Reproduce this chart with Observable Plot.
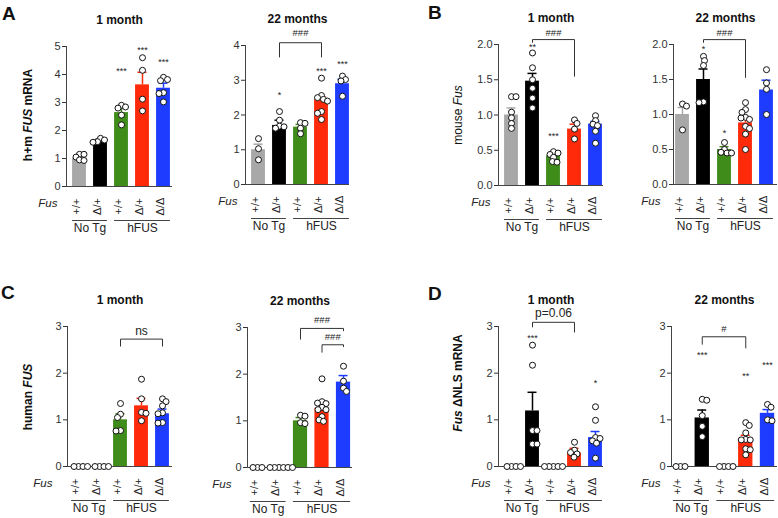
<!DOCTYPE html>
<html><head><meta charset="utf-8">
<script src="https://cdn.jsdelivr.net/npm/d3@7"></script>
<script src="https://cdn.jsdelivr.net/npm/@observablehq/plot@0.6"></script>
<style>
html,body{margin:0;padding:0;background:#fff;overflow:hidden;}
#chart{position:relative;width:778px;height:518px;font-family:"Liberation Sans",Arial,Helvetica,sans-serif;color:#111;}
.letter{position:absolute;font-weight:bold;font-size:19px;line-height:1;}
.ylab{position:absolute;white-space:nowrap;font-size:12px;transform:translate(-50%,-50%) rotate(-90deg);}
</style></head><body><div id="chart"></div>
<script>
// ---- categories / tick labels ----
const genotypes = ["+/+", "Δ/+", "+/+", "Δ/+", "Δ/Δ"];
const groupNames = ["No Tg", "hFUS"];
const groupFrom = [0, 2];
const groupTo = [1, 4];
const colors = ["#a8a8a8", "#000000", "#3f8c1b", "#ff2a0a", "#1d3cff"];

// ---- A: h+m FUS mRNA ----
const A1_mean = [1.0, 1.63, 2.64, 3.63, 3.51];
const A1_sem = [0.1, 0.06, 0.17, 0.45, 0.18];
const A1_pts = [[1.15, 1.15, 1.05, 0.95, 0.93], [1.72, 1.66, 1.6, 1.58], [2.9, 2.84, 2.8, 2.55, 2.2], [4.6, 4.15, 3.12, 2.7], [3.9, 3.82, 3.78, 3.35, 3.32, 3.02]];
const A1_stars = ["", "", "***", "***", "***"];
const A1_starY = [0, 0, 4.2, 4.95, 4.52];
const A1_brackets = [];

const A2_mean = [1.0, 1.7, 1.65, 2.44, 2.9];
const A2_sem = [0.16, 0.15, 0.08, 0.08, 0.13];
const A2_pts = [[1.32, 1.03, 0.71], [2.1, 1.85, 1.68, 1.66, 1.62], [1.78, 1.76, 1.62, 1.46], [3.06, 2.56, 2.5, 2.45, 2.4, 2.1, 2.05, 1.87], [3.12, 3.02, 2.98, 2.54]];
const A2_stars = ["", "*", "", "***", "***"];
const A2_starY = [0, 2.63, 0, 3.32, 3.51];
const A2_brackets = [{from: 1, to: 3, y: 4.08, yl: 3.67, yr: 3.67, label: "###", ly: 4.35}];

// ---- B: mouse Fus ----
const B1_mean = [1.0, 1.48, 0.42, 0.8, 0.87];
const B1_sem = [0.1, 0.11, 0.03, 0.07, 0.04];
const B1_pts = [[1.26, 1.26, 1.04, 0.96, 0.88, 0.81], [1.88, 1.67, 1.5, 1.38, 1.24, 1.1], [0.48, 0.46, 0.44, 0.4, 0.34, 0.33], [0.93, 0.88, 0.8, 0.66], [0.99, 0.92, 0.87, 0.85, 0.77, 0.6]];
const B1_stars = ["", "**", "***", "", ""];
const B1_starY = [0, 1.99, 0.73, 0, 0];
const B1_brackets = [{from: 1, to: 3, y: 2.07, yl: 2.03, yr: 1.55, label: "###", ly: 2.17}];

const B2_mean = [1.0, 1.5, 0.5, 0.88, 1.35];
const B2_sem = [0.1, 0.15, 0.04, 0.06, 0.14];
const B2_pts = [[1.15, 1.12, 0.78], [1.83, 1.77, 1.7, 1.18, 1.17], [0.6, 0.5, 0.46, 0.45, 0.45], [1.17, 1.07, 1.03, 0.96, 0.95, 0.93, 0.83, 0.8, 0.72, 0.5], [1.64, 1.45, 1.36, 1.0]];
const B2_stars = ["", "*", "*", "", ""];
const B2_starY = [0, 1.96, 0.76, 0, 0];
const B2_brackets = [{from: 1, to: 3, y: 2.07, yl: 2.03, yr: 1.53, label: "###", ly: 2.17}];

// ---- C: human FUS ----
const C1_mean = [0, 0, 1.0, 1.3, 1.13];
const C1_sem = [0, 0, 0.13, 0.16, 0.1];
const C1_pts = [[0, 0, 0, 0], [0, 0, 0, 0], [1.35, 1.12, 1.05, 0.77, 0.76], [1.87, 1.45, 1.16, 1.14, 0.98], [1.45, 1.39, 1.3, 1.15, 1.13, 0.94, 0.93]];
const C1_stars = ["", "", "", "", ""];
const C1_starY = [0, 0, 0, 0, 0];
const C1_brackets = [{from: 2, to: 4, y: 2.73, yl: 2.58, yr: 2.58, label: "ns", ly: 2.9}];

const C2_mean = [0, 0, 1.0, 1.27, 1.83];
const C2_sem = [0, 0, 0.07, 0.11, 0.14];
const C2_pts = [[0, 0, 0], [0, 0, 0, 0, 0, 0], [1.12, 1.1, 0.96, 0.94], [1.9, 1.41, 1.38, 1.37, 1.29, 1.24, 1.24, 1.09, 1.02, 0.99], [2.17, 1.85, 1.7, 1.63]];
const C2_stars = ["", "", "", "", ""];
const C2_starY = [0, 0, 0, 0, 0];
const C2_brackets = [
  {from: 2, to: 4, y: 2.98, yl: 2.75, yr: 2.93, label: "###", ly: 3.16},
  {from: 3, to: 4, y: 2.63, yl: 2.47, yr: 2.59, label: "###", ly: 2.79}
];

// ---- D: Fus ΔNLS mRNA ----
const D1_mean = [0, 1.19, 0, 0.29, 0.62];
const D1_sem = [0, 0.4, 0, 0.1, 0.13];
const D1_pts = [[0, 0, 0, 0], [2.6, 2.17, 0.77, 0.77, 0.48, 0.48], [0, 0, 0, 0, 0], [0.52, 0.35, 0.3, 0.27, 0.2], [1.28, 0.99, 0.62, 0.6, 0.55, 0.5, 0.18]];
const D1_stars = ["", "***", "", "", "*"];
const D1_starY = [0, 2.8, 0, 0, 1.84];
const D1_brackets = [{from: 1, to: 3, y: 3.09, yl: 2.99, yr: 2.88, label: "p=0.06", ly: 3.28}];

const D2_mean = [0, 1.04, 0, 0.6, 1.14];
const D2_sem = [0, 0.17, 0, 0.07, 0.08];
const D2_pts = [[0, 0, 0], [1.44, 1.42, 1.09, 0.86, 0.64], [0, 0, 0, 0], [0.94, 0.88, 0.72, 0.58, 0.57, 0.57, 0.38, 0.36, 0.25], [1.33, 1.27, 1.0, 0.98]];
const D2_stars = ["", "***", "", "**", "***"];
const D2_starY = [0, 2.44, 0, 1.99, 2.21];
const D2_brackets = [{from: 1, to: 3, y: 2.78, yl: 2.62, yr: 2.54, label: "#", ly: 2.94}];

const ticks5 = [0, 1, 2, 3, 4, 5];
const ticks4 = [0, 1, 2, 3, 4];
const ticks3 = [0, 1, 2, 3];
const ticksB = [0, 0.5, 1, 1.5, 2];

// ---- layout (pixel geometry of each sub-plot frame) ----
const panels = [
  {title: "1 month", mean: A1_mean, sem: A1_sem, pts: A1_pts, stars: A1_stars, starY: A1_starY, brackets: A1_brackets, ymax: 5, ticks: ticks5, fmt: d3.format("d"), axis: 66, c0: 79, c4: 163, right: 172, top: 46, bottom: 186, fusDx: -9},
  {title: "22 months", mean: A2_mean, sem: A2_sem, pts: A2_pts, stars: A2_stars, starY: A2_starY, brackets: A2_brackets, ymax: 4, ticks: ticks4, fmt: d3.format("d"), axis: 245, c0: 258, c4: 342, right: 349, top: 45, bottom: 184, fusDx: -8},
  {title: "1 month", mean: B1_mean, sem: B1_sem, pts: B1_pts, stars: B1_stars, starY: B1_starY, brackets: B1_brackets, ymax: 2, ticks: ticksB, fmt: d3.format(".1f"), axis: 498, c0: 511, c4: 595, right: 603, top: 44, bottom: 185, fusDx: -8},
  {title: "22 months", mean: B2_mean, sem: B2_sem, pts: B2_pts, stars: B2_stars, starY: B2_starY, brackets: B2_brackets, ymax: 2, ticks: ticksB, fmt: d3.format(".1f"), axis: 673, c0: 682, c4: 766, right: 777, top: 44, bottom: 184, fusDx: -13},
  {title: "1 month", mean: C1_mean, sem: C1_sem, pts: C1_pts, stars: C1_stars, starY: C1_starY, brackets: C1_brackets, ymax: 3, ticks: ticks3, fmt: d3.format("d"), axis: 67, c0: 78, c4: 162, right: 172, top: 326, bottom: 466, fusDx: -15},
  {title: "22 months", mean: C2_mean, sem: C2_sem, pts: C2_pts, stars: C2_stars, starY: C2_starY, brackets: C2_brackets, ymax: 3, ticks: ticks3, fmt: d3.format("d"), axis: 247, c0: 257, c4: 343, right: 352, top: 327, bottom: 467, fusDx: -16},
  {title: "1 month", mean: D1_mean, sem: D1_sem, pts: D1_pts, stars: D1_stars, starY: D1_starY, brackets: D1_brackets, ymax: 3, ticks: ticks3, fmt: d3.format("d"), axis: 498, c0: 511, c4: 595, right: 603, top: 326, bottom: 466, fusDx: -8},
  {title: "22 months", mean: D2_mean, sem: D2_sem, pts: D2_pts, stars: D2_stars, starY: D2_starY, brackets: D2_brackets, ymax: 3, ticks: ticks3, fmt: d3.format("d"), axis: 671, c0: 680, c4: 767, right: 777, top: 326, bottom: 466, fusDx: -11}
];

// deterministic beeswarm offsets (pixels) so overlapping dots spread sideways
function swarm(values, pxY, D) {
  const order = values.map((v, k) => k).sort((a, b) => values[b] - values[a]);
  const placed = [];
  const out = new Array(values.length);
  order.forEach((k, n) => {
    const y = values[k] * pxY;
    for (let s = 0; s < 60; s += 0.5) {
      const cands = s === 0 ? [0] : (n % 2 ? [s, -s] : [-s, s]);
      const c = cands.find(c => placed.every(p => Math.hypot(p.x - c, p.y - y) >= D));
      if (c !== undefined) { placed.push({x: c, y}); out[k] = c; return; }
    }
    out[k] = 0;
  });
  return out;
}

const chart = document.getElementById("chart");
const BW = 0.33;
const font = '"Liberation Sans", Arial, Helvetica, sans-serif';

panels.forEach(p => {
  const ML = 42, MR = 12, MT = 44, MB = 58;
  const step = (p.c4 - p.c0) / 4;
  const xmin = -(p.c0 - p.axis) / step;
  const xmax = 4 + (p.right - p.c4) / step;
  const fw = p.right - p.axis, fh = p.bottom - p.top;
  const pxY = fh / p.ymax;
  const bars = p.mean.map((m, i) => ({i, mean: m, sem: p.sem[i], color: colors[i]}));
  const errs = bars.filter(d => d.sem > 0);
  const pts = [];
  p.pts.forEach((vals, i) => {
    const off = swarm(vals, pxY, 4.3);
    vals.forEach((v, k) => pts.push({x: i + off[k] / step, v}));
  });
  const stars = p.stars.map((t, i) => ({i, t, y: p.starY[i]})).filter(d => d.t);
  const bpts = [];
  p.brackets.forEach((b, k) => {
    bpts.push({k, x: b.from, y: b.yl}, {k, x: b.from, y: b.y}, {k, x: b.to, y: b.y}, {k, x: b.to, y: b.yr});
  });
  const groups = groupNames.map((g, k) => ({g, from: groupFrom[k], to: groupTo[k]}));
  const halfPx = BW * step;
  const svg = Plot.plot({
    width: fw + ML + MR, height: fh + MT + MB,
    marginLeft: ML, marginRight: MR, marginTop: MT, marginBottom: MB,
    style: {fontFamily: font, fontSize: "11px", color: "#333", background: "transparent", overflow: "visible"},
    x: {domain: [xmin, xmax], axis: null},
    y: {domain: [0, p.ymax], ticks: p.ticks, tickFormat: p.fmt, tickSize: 4, tickPadding: 2, label: null},
    color: {type: "identity"},
    marks: [
      Plot.rect(bars, {x1: d => d.i - BW, x2: d => d.i + BW, y1: 0, y2: "mean", fill: "color"}),
      Plot.ruleX(errs, {x: "i", y1: "mean", y2: d => d.mean + d.sem, stroke: "color", strokeWidth: 1.5}),
      Plot.ruleY(errs, {x1: "i", x2: "i", y: d => d.mean + d.sem, stroke: "color", strokeWidth: 1.5, insetLeft: -4.5, insetRight: -4.5}),
      Plot.ruleY([0], {stroke: "#444"}),
      Plot.ruleX([xmin], {y1: 0, y2: p.ymax, stroke: "#444"}),
      Plot.dot(pts, {x: "x", y: "v", r: 3, fill: "white", stroke: "#111", strokeWidth: 1}),
      Plot.text(stars, {x: "i", y: "y", text: "t", fontSize: 9, dy: 2, fill: "#222"}),
      Plot.line(bpts, {x: "x", y: "y", z: "k", stroke: "#333", strokeWidth: 1}),
      Plot.text(p.brackets, {x: d => (d.from + d.to) / 2, y: "ly", text: "label", fontSize: d => d.label.startsWith("#") ? 9.5 : 12, fill: "#222"}),
      Plot.text([p.title], {frameAnchor: "top", dy: -31, fontWeight: "bold", fontSize: 12, fill: "#111"}),
      Plot.text(genotypes, {x: (d, i) => i, frameAnchor: "bottom", dy: 20, rotate: -90, fontSize: 11, fill: "#222"}),
      Plot.text(["Fus"], {frameAnchor: "bottom-left", dx: p.fusDx, dy: 20, textAnchor: "end", fontStyle: "italic", fontSize: 11.5, fill: "#222"}),
      Plot.ruleY(groups, {x1: "from", x2: "to", y: () => 0, dy: 34, insetLeft: -halfPx, insetRight: -halfPx, stroke: "#444"}),
      Plot.text(groups, {x: d => (d.from + d.to) / 2, frameAnchor: "bottom", dy: 45, text: "g", fontSize: 12, fill: "#222"})
    ]
  });
  svg.style.position = "absolute";
  svg.style.left = (p.axis - ML) + "px";
  svg.style.top = (p.top - MT) + "px";
  chart.appendChild(svg);
});

// panel letters and y-axis titles
const letters = [["A", 2, 4], ["B", 428, 3], ["C", 1, 283], ["D", 428, 284]];
letters.forEach(([t, x, y]) => {
  const d = document.createElement("div");
  d.className = "letter"; d.textContent = t;
  d.style.left = x + "px"; d.style.top = y + "px";
  chart.appendChild(d);
});
const ylabels = [
  ["h+m <i>FUS</i> mRNA", 28, 115, "bold"],
  ["mouse <i>Fus</i>", 458, 115, "normal"],
  ["human <i>FUS</i>", 28, 397, "bold"],
  ["<i>Fus</i> ΔNLS mRNA", 458, 383, "bold"]
];
ylabels.forEach(([h, x, y, w]) => {
  const d = document.createElement("div");
  d.className = "ylab"; d.innerHTML = h;
  d.style.left = x + "px"; d.style.top = y + "px"; d.style.fontWeight = w;
  chart.appendChild(d);
});
</script></body></html>
